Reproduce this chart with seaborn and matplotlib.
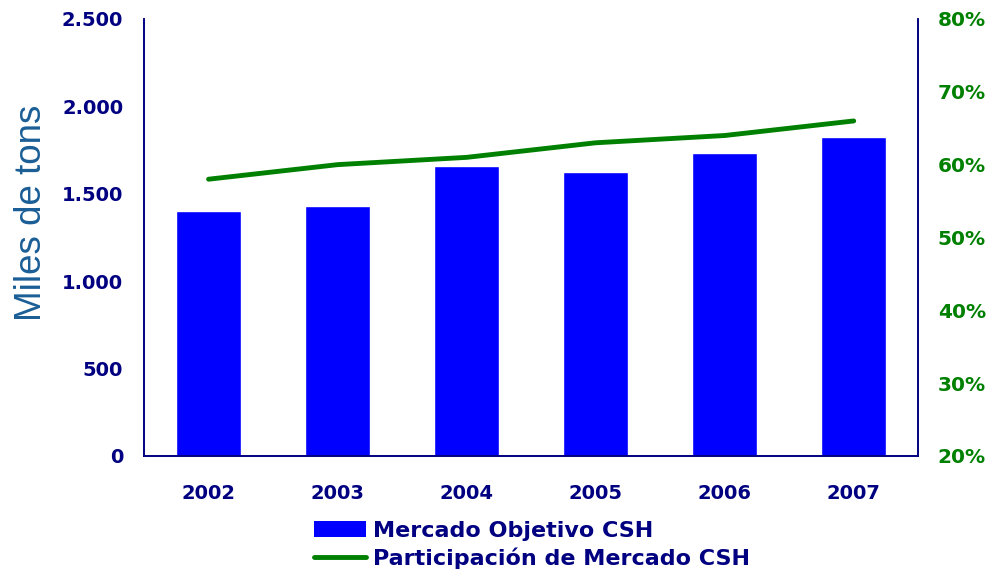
import pandas as pd
import matplotlib.pyplot as plt
import seaborn as sns
from matplotlib.ticker import FuncFormatter
from matplotlib.patches import Patch
from matplotlib.lines import Line2D

# Values
years = ['2002', '2003', '2004', '2005', '2006', '2007']
mercado = [1400, 1430, 1660, 1625, 1735, 1825]          # miles de tons
participacion = [0.58, 0.60, 0.61, 0.63, 0.64, 0.66]    # share

sns.set_style('white')
plt.rcParams['font.family'] = ['DejaVu Sans']

navy = '#000080'
green = '#008000'

df = pd.DataFrame({'year': years, 'mercado': mercado, 'part': participacion})

fig = plt.figure(figsize=(9.9, 5.75), dpi=100)
ax = fig.add_axes([0.1455, 0.207, 0.782, 0.76])

sns.barplot(data=df, x='year', y='mercado', color='#0000FF', saturation=1,
            width=0.5, ax=ax)
ax.set_xlim(-0.5, 5.5)
ax.set_ylim(0, 2500)
ax.set_yticks(range(0, 2501, 500))
ax.yaxis.set_major_formatter(FuncFormatter(lambda v, p: f'{int(v):,}'.replace(',', '.')))
ax.set_xlabel('')
ax.set_ylabel('Miles de tons', fontsize=26.5, color='#1a5e96',
              family=['Liberation Sans', 'DejaVu Sans'])
ax.yaxis.set_label_coords(-0.123, 0.556)
ax.tick_params(axis='both', length=0, labelsize=14, labelcolor=navy)
ax.tick_params(axis='x', pad=20)
ax.tick_params(axis='y', pad=15)
for lab in ax.get_xticklabels() + ax.get_yticklabels():
    lab.set_fontweight('bold')

ax2 = ax.twinx()
sns.lineplot(x=list(range(len(years))), y=participacion, color=green,
             linewidth=3.5, solid_capstyle='round', ax=ax2)
ax2.set_ylim(0.2, 0.8)
ax2.set_yticks([0.2, 0.3, 0.4, 0.5, 0.6, 0.7, 0.8])
ax2.yaxis.set_major_formatter(FuncFormatter(lambda v, p: f'{v * 100:.0f}%'))
ax2.tick_params(axis='y', length=0, labelsize=14.5, labelcolor=green, pad=14)
for lab in ax2.get_yticklabels():
    lab.set_fontweight('bold')

for a in (ax, ax2):
    a.spines['top'].set_visible(False)
    for s in ('left', 'right', 'bottom'):
        a.spines[s].set_color(navy)
        a.spines[s].set_linewidth(1.2)

handles = [Patch(facecolor='#0000FF', edgecolor='none'),
           Line2D([0], [0], color=green, linewidth=3.5, solid_capstyle='round')]
labels = ['Mercado Objetivo CSH', 'Participación de Mercado CSH']
leg = fig.legend(handles, labels, loc='upper left', bbox_to_anchor=(0.317, 0.094),
                 frameon=False, prop={'size': 16, 'weight': 'bold'},
                 handlelength=2.35, handleheight=0.7, handletextpad=0.3,
                 labelspacing=0.3, borderaxespad=0, borderpad=0)
for t in leg.get_texts():
    t.set_color(navy)

fig.savefig('out.png', dpi=100)
